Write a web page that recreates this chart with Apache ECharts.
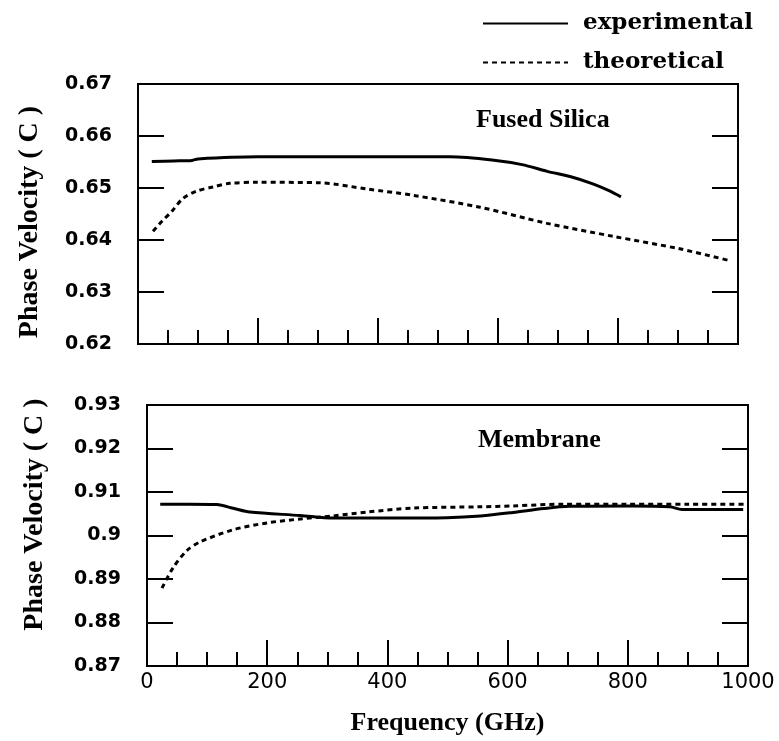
<!DOCTYPE html>
<html>
<head>
<meta charset="utf-8">
<script src="https://cdn.jsdelivr.net/npm/echarts@6/dist/echarts.min.js"></script>
<style>html,body{margin:0;padding:0;background:#fff}#c{width:779px;height:741px}</style>
</head>
<body>
<div id="c"></div>
<script>
// ---- data ----
const silicaExpFreq = [23, 60, 90, 100, 200, 300, 400, 520, 590, 640, 682, 720, 758, 785, 805];
const silicaExpVel  = [0.6551, 0.6552, 0.6553, 0.6556, 0.6560, 0.6560, 0.6560, 0.6560, 0.6554, 0.6545, 0.6532, 0.6522, 0.6508, 0.6495, 0.6483];
const silicaTheoFreq = [25, 40, 57, 75, 98, 125, 153, 200, 303, 382, 458, 570, 682, 792, 903, 987];
const silicaTheoVel  = [0.6417, 0.6436, 0.6456, 0.6480, 0.6494, 0.6502, 0.6509, 0.6511, 0.6510, 0.6498, 0.6486, 0.6463, 0.6432, 0.6407, 0.6383, 0.6360];
const membExpFreq = [22, 70, 116, 145, 171, 255, 310, 400, 499, 555, 609, 660, 703, 804, 870, 890, 992];
const membExpVel  = [0.9072, 0.9072, 0.9071, 0.9062, 0.9054, 0.9046, 0.9040, 0.9040, 0.9041, 0.9045, 0.9053, 0.9062, 0.9067, 0.9068, 0.9066, 0.9060, 0.9060];
const membTheoFreq = [25, 43, 66, 88, 143, 200, 255, 310, 366, 443, 555, 609, 692, 800, 900, 1000];
const membTheoVel  = [0.8879, 0.8925, 0.8965, 0.8985, 0.9013, 0.9029, 0.9038, 0.9045, 0.9054, 0.9063, 0.9066, 0.9068, 0.9072, 0.9072, 0.9072, 0.9072];
const silicaTicks = [0.62, 0.67, 0.01];
const membTicks = [0.87, 0.93, 0.01];
const freqTicks = [0, 1000, 200];

const pair = (xs, ys) => xs.map((x, i) => [x, ys[i]]);

const chart = echarts.init(document.getElementById('c'), null, {renderer: 'canvas'});
const sansBold = {fontFamily: 'DejaVu Sans', fontWeight: 'bold', fontSize: 19, color: '#000'};
const serifBold = {fontFamily: 'Liberation Serif', fontWeight: 'bold', fontSize: 26, color: '#000'};

function xAx(gi, showLabels) {
  return {
    type: 'value', gridIndex: gi, min: freqTicks[0], max: freqTicks[1], interval: freqTicks[2],
    axisLine: {show: true, lineStyle: {color: '#000', width: 2}},
    axisTick: {show: true, inside: true, length: 26, lineStyle: {color: '#000', width: 2}},
    minorTick: {show: true, splitNumber: 4, length: 14, lineStyle: {color: '#000', width: 2}},
    splitLine: {show: false},
    axisLabel: {show: showLabels, margin: 6, fontFamily: 'DejaVu Sans', fontSize: 21, color: '#000',
      formatter: v => String(v)},
    name: showLabels ? 'Frequency (GHz)' : '', nameLocation: 'middle', nameGap: 44,
    nameTextStyle: serifBold
  };
}
function yAx(gi, t, pos, showLabels, gap, pad) {
  return {
    type: 'value', gridIndex: gi, position: pos, min: t[0], max: t[1], interval: t[2],
    axisLine: {show: true, onZero: false, lineStyle: {color: '#000', width: 2}},
    axisTick: {show: true, inside: true, length: 26, lineStyle: {color: '#000', width: 2}},
    splitLine: {show: false},
    axisLabel: {show: showLabels, margin: 26, ...sansBold,
      formatter: v => (+v.toFixed(2)).toString()},
    name: showLabels ? 'Phase Velocity ( C )' : '', nameLocation: 'middle', nameGap: gap,
    nameTextStyle: {...serifBold, fontSize: 28, padding: pad || 0}
  };
}
const expStyle = {color: '#000', width: 3, type: 'solid'};
const theoStyle = {color: '#000', width: 3, type: [5, 4]};
function line(name, data, gi, style) {
  return {type: 'line', name: name, xAxisIndex: gi, yAxisIndex: gi * 2, data: data,
    showSymbol: false, symbol: 'none', smooth: 0.3, lineStyle: style, itemStyle: {color: '#000'},
    animation: false};
}

chart.setOption({
  backgroundColor: '#fff',
  animation: false,
  grid: [
    {left: 138, right: 41, top: 84, height: 260, show: true, borderColor: '#000', borderWidth: 2, backgroundColor: 'transparent'},
    {left: 147, right: 31, top: 405, height: 261, show: true, borderColor: '#000', borderWidth: 2, backgroundColor: 'transparent'}
  ],
  title: [
    {text: 'Fused Silica', left: 476, top: 107, padding: 0, textStyle: serifBold},
    {text: 'Membrane', left: 478, top: 427, padding: 0, textStyle: serifBold}
  ],
  legend: {
    orient: 'vertical', left: 482, top: 12, padding: 0, itemWidth: 85, itemHeight: 14, itemGap: 16,
    data: ['experimental', 'theoretical'],
    itemStyle: {color: 'transparent', borderWidth: 0, opacity: 0},
    textStyle: {fontFamily: 'DejaVu Serif', fontWeight: 'bold', fontSize: 23, color: '#000', padding: [0, 0, 0, 10]}
  },
  xAxis: [xAx(0, false), xAx(1, true)],
  yAxis: [yAx(0, silicaTicks, 'left', true, 94, [0, 16, 0, 0]), yAx(0, silicaTicks, 'right', false, 0),
          yAx(1, membTicks, 'left', true, 98, [0, 0, 0, 42]), yAx(1, membTicks, 'right', false, 0)],
  series: [
    line('experimental', pair(silicaExpFreq, silicaExpVel), 0, expStyle),
    line('theoretical', pair(silicaTheoFreq, silicaTheoVel), 0, theoStyle),
    line('experimental', pair(membExpFreq, membExpVel), 1, expStyle),
    line('theoretical', pair(membTheoFreq, membTheoVel), 1, theoStyle)
  ]
});
</script>
</body>
</html>
